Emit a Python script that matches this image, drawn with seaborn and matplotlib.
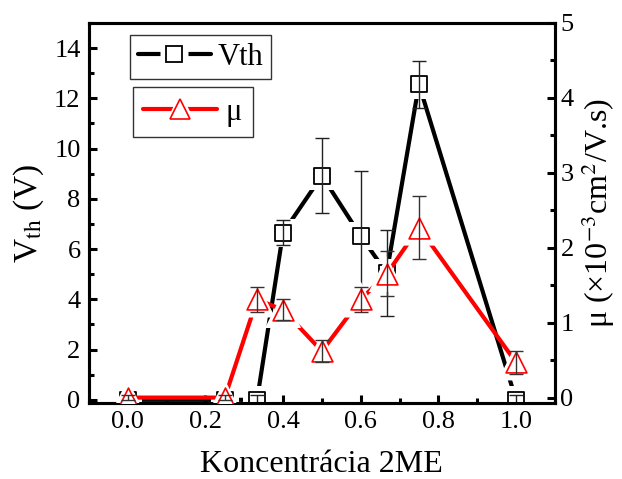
import numpy as np
import pandas as pd
import seaborn as sns
import matplotlib
matplotlib.use("Agg")
import matplotlib.pyplot as plt
from matplotlib.lines import Line2D
from matplotlib.ticker import MultipleLocator

# ---- data ----
conc = [0.0, 0.25, 0.333, 0.4, 0.5, 0.6, 0.667, 0.75, 1.0]
vth = [0.0, 0.0, 0.0, 6.65, 8.92, 6.52, 5.05, 12.56, 0.0]
vth_err = [0.05, 0.05, 0.2, 0.5, 1.5, 2.57, 1.7, 0.93, 0.2]
mu = [0.0, 0.0, 1.31, 1.17, 0.62, 1.31, 1.65, 2.27, 0.47]
mu_err = [0.03, 0.03, 0.17, 0.14, 0.15, 0.17, 0.3, 0.42, 0.15]
xticks = [0.0, 0.2, 0.4, 0.6, 0.8, 1.0]

df = pd.DataFrame({"conc": conc, "vth": vth, "vth_err": vth_err,
                   "mu": mu, "mu_err": mu_err})

sns.set_style("white")
plt.rcParams["font.family"] = ["Liberation Serif", "DejaVu Serif"]
plt.rcParams["mathtext.fontset"] = "stix"
for k in ("text.color", "axes.labelcolor", "xtick.color", "ytick.color"):
    plt.rcParams[k] = "black"

fig = plt.figure(figsize=(6.22, 4.79), dpi=100)
ax = fig.add_axes([0.143, 0.159, 0.749, 0.793])
ax2 = ax.twinx()

LW = 3.0
SQ = 11.5
TRI = 15

# Vth (left axis)
sns.lineplot(data=df, x="conc", y="vth", ax=ax, color="black", lw=LW,
             zorder=2, legend=False)
sns.scatterplot(data=df, x="conc", y="vth", ax=ax, marker="s", s=(SQ + 9) ** 2,
                facecolors="white", edgecolor="none", linewidth=0, zorder=3,
                legend=False)
sns.scatterplot(data=df, x="conc", y="vth", ax=ax, marker="s", s=SQ ** 2,
                facecolors="white", edgecolor="black", linewidth=1.3, zorder=4,
                legend=False)
ax.errorbar(df["conc"], df["vth"], yerr=df["vth_err"], fmt="none",
            ecolor="#222222", elinewidth=1.0, capsize=5, capthick=1.0, zorder=5)

# mu (right axis)
sns.lineplot(data=df, x="conc", y="mu", ax=ax2, color="#ff0000", lw=LW,
             zorder=2, legend=False)
sns.scatterplot(data=df, x="conc", y="mu", ax=ax2, marker="^", s=(TRI + 11) ** 2,
                facecolors="white", edgecolor="none", linewidth=0, zorder=3,
                legend=False)
sns.scatterplot(data=df, x="conc", y="mu", ax=ax2, marker="^", s=TRI ** 2,
                facecolors="white", edgecolor="#ff0000", linewidth=1.2, zorder=4,
                legend=False)
ax2.errorbar(df["conc"], df["mu"], yerr=df["mu_err"], fmt="none",
             ecolor="#333333", elinewidth=1.0, capsize=5, capthick=1.0, zorder=5)

# axes limits & ticks
ax.set_xlim(-0.1, 1.1)
ax.set_ylim(-0.12, 15.0)
ax2.set_ylim(-0.07, 5.0)
ax.set_xticks(xticks)
ax.set_xticklabels([f"{t:.1f}" for t in xticks])
ax.xaxis.set_minor_locator(MultipleLocator(0.1))
ax.set_yticks(np.arange(0, 15, 2))
ax.yaxis.set_minor_locator(MultipleLocator(1))
ax2.set_yticks(np.arange(0, 6, 1))
ax2.yaxis.set_minor_locator(MultipleLocator(0.5))

for a in (ax, ax2):
    for sp in a.spines.values():
        sp.set_linewidth(2.2)
        sp.set_color("black")
ax.tick_params(axis="both", which="major", direction="in", length=6, width=2.2,
               labelsize=19, pad=6, top=False, right=False, left=True, bottom=True)
ax.tick_params(axis="both", which="minor", direction="in", length=3.5, width=2.2,
               top=False, right=False, left=True, bottom=True)
ax2.tick_params(axis="y", which="major", direction="in", length=6, width=2.2,
                labelsize=19, pad=4, right=True, left=False)
ax2.tick_params(axis="y", which="minor", direction="in", length=3.5, width=2.2,
                right=True, left=False)

ax.set_xlabel("Koncentrácia 2ME", fontsize=23, labelpad=12)
ax.set_ylabel(r"V$_{\mathrm{th}}$ (V)", fontsize=24, labelpad=6)
ax2.set_ylabel(r"μ (×10$^{-3}$cm$^{2}$/V.s)", fontsize=23, labelpad=4)

# legends (Origin style, separate boxes)
h1 = (Line2D([], [], color="black", lw=LW),
      Line2D([], [], ls="none", marker="s", markersize=SQ + 9,
             markerfacecolor="white", markeredgecolor="none"),
      Line2D([], [], ls="none", marker="s", markersize=SQ,
             markerfacecolor="white", markeredgecolor="black", markeredgewidth=1.3))
h2 = (Line2D([], [], color="#ff0000", lw=LW),
      Line2D([], [], ls="none", marker="^", markersize=TRI + 9,
             markerfacecolor="white", markeredgecolor="none"),
      Line2D([], [], ls="none", marker="^", markersize=TRI,
             markerfacecolor="white", markeredgecolor="#ff0000", markeredgewidth=1.2))
leg1 = ax2.legend([h1], ["Vth"], loc="upper left", bbox_to_anchor=(0.088, 0.968),
                  fontsize=22, frameon=True, fancybox=False, handlelength=2.4,
                  handletextpad=0.22, borderpad=0.25, borderaxespad=0)
leg1.get_frame().set_edgecolor("black")
leg1.get_frame().set_linewidth(1.0)
ax2.add_artist(leg1)
leg2 = ax2.legend([h2], ["μ"], loc="upper left", bbox_to_anchor=(0.094, 0.832),
                  fontsize=22, frameon=True, fancybox=False, handlelength=2.4,
                  handletextpad=0.3, borderpad=0.35, borderaxespad=0)
leg2.get_frame().set_edgecolor("black")
leg2.get_frame().set_linewidth(1.0)

fig.savefig("out.png", dpi=100)
